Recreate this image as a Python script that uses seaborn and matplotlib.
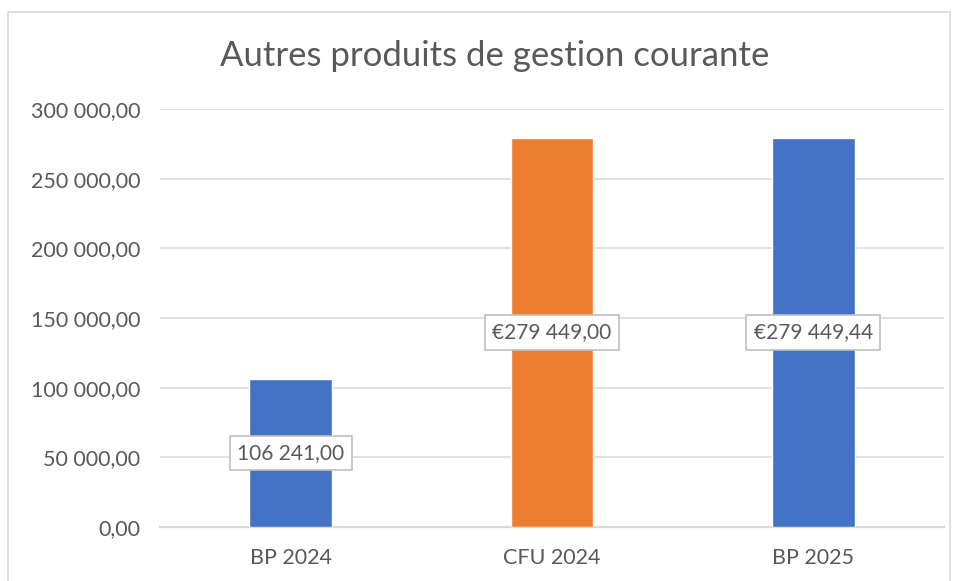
import matplotlib
matplotlib.use("Agg")
import matplotlib.pyplot as plt
import seaborn as sns
import pandas as pd
from matplotlib.ticker import FuncFormatter
from matplotlib.patches import Rectangle

categories = ["BP 2024", "CFU 2024", "BP 2025"]
values = [106241.00, 279449.00, 279449.44]
bar_labels = ["106 241,00", "€279 449,00", "€279 449,44"]
bar_colors = ["#4472C4", "#ED7D31", "#4472C4"]
y_ticks = [0, 50000, 100000, 150000, 200000, 250000, 300000]

TEXT = "#595959"
GRID = "#d9d9d9"


def fr_number(x, pos=None):
    s = f"{x:,.2f}"
    return s.replace(",", " ").replace(".", ",")


def main():
    sns.set_style("white")
    plt.rcParams["font.family"] = ["Lato", "DejaVu Sans"]

    df = pd.DataFrame({"cat": categories, "val": values})

    fig = plt.figure(figsize=(9.6, 5.81), dpi=100)
    ax = fig.add_axes([0.1667, 0.0929, 0.8166, 0.7195])

    sns.barplot(data=df, x="cat", y="val", hue="cat", palette=bar_colors,
                width=0.317, legend=False, ax=ax, saturation=1, zorder=3)

    ax.set_ylim(0, 300000)
    ax.set_xlim(-0.5, 2.5)
    ax.set_yticks(y_ticks)
    ax.yaxis.set_major_formatter(FuncFormatter(fr_number))
    ax.grid(axis="y", color=GRID, linewidth=1.1, zorder=0)
    ax.set_axisbelow(True)
    for side in ["left", "right", "top"]:
        ax.spines[side].set_visible(False)
    ax.spines["bottom"].set_color(GRID)
    ax.spines["bottom"].set_linewidth(1.6)
    ax.tick_params(axis="both", length=0, labelsize=15.5, colors=TEXT)
    ax.tick_params(axis="y", pad=14)
    ax.tick_params(axis="x", pad=15)
    ax.set_xlabel("")
    ax.set_ylabel("")

    for i, (v, lab) in enumerate(zip(values, bar_labels)):
        ax.text(i, v / 2, lab, ha="center", va="center", fontsize=15, color=TEXT,
                zorder=5,
                bbox=dict(boxstyle="square,pad=0.35", fc="white", ec="#bfbfbf", lw=1.2))

    fig.text(0.515, 0.903, "Autres produits de gestion courante", ha="center", va="center",
             fontsize=25, color=TEXT)

    # chart frame
    fig.patches.append(Rectangle((8 / 960, -0.05), 942 / 960, 1 - 12 / 581 + 0.05,
                                 transform=fig.transFigure, fill=False,
                                 edgecolor=GRID, linewidth=1.2))

    fig.savefig("out.png", dpi=100)
    plt.close(fig)


if __name__ == "__main__":
    main()
